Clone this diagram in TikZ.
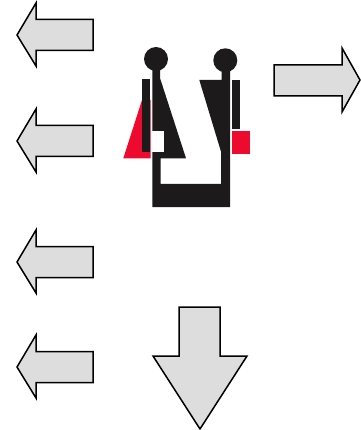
\documentclass[tikz,border=0pt]{standalone}
\definecolor{arrowfill}{HTML}{DDDDDD}
\definecolor{figred}{HTML}{EE0A2E}
\definecolor{figblack}{HTML}{1C1A1B}
\tikzset{
  blockarrow/.style={draw=black,fill=arrowfill,line width=1.5pt,miter limit=10},
  figdark/.style={fill=figblack},
  figaccent/.style={fill=figred}
}
\newcommand{\leftarrowat}[1]{%
  \path[blockarrow,shift={(0,#1)}] (17,0) -- (36,-32) -- (36,-15.5) -- (93,-15.5) -- (93,15.5) -- (36,15.5) -- (36,31) -- cycle;}
\begin{document}
\begin{tikzpicture}[x=1pt,y=-1pt]
\useasboundingbox (0,0) rectangle (360,430);
\leftarrowat{35}
\leftarrowat{141}
\leftarrowat{262}
\leftarrowat{367}
% right arrow
\path[blockarrow] (274,65) -- (342,65) -- (342,48) -- (360,80) -- (342,112) -- (342,96) -- (274,96) -- cycle;
% down arrow
\path[blockarrow] (179,307) -- (220,307) -- (220,356) -- (247,356) -- (200,429) -- (153,356) -- (179,356) -- cycle;
% figure
\fill[figaccent] (142,100) -- (123.3,158.3) -- (150.7,158.3) -- (150.7,100) -- cycle;
\fill[figdark] (142,79) rectangle (150,152.3);
\fill[figdark] (156,59) circle (12);
\fill[figdark] (225.3,60.3) circle (12);
% left body and U base
\fill[figdark] (152.3,65) -- (160,65) -- (160,78) -- (186,158.3) -- (160.7,158.3) -- (160.7,184) -- (221,184) -- (221,151.7) -- (199.3,80) -- (221.7,80) -- (221.7,65) -- (230,65) -- (230,207) -- (152.3,207) -- cycle;
\fill[white] (150.7,130.7) rectangle (164.3,152.3);
% right bar and bag
\fill[figdark] (232.3,80) rectangle (240.3,129.3);
\fill[figaccent] (232.3,130.7) rectangle (250,154.3);
\end{tikzpicture}
\end{document}
